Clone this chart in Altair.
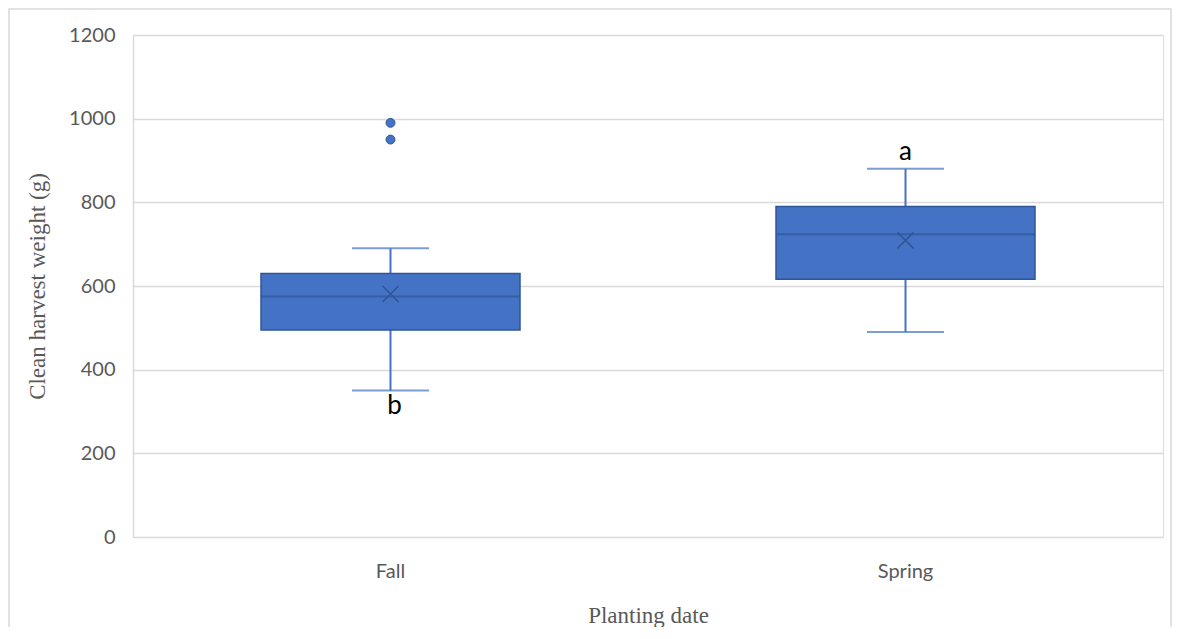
import altair as alt
import pandas as pd

categories = ["Fall", "Spring"]
q1 = [495, 616]
q3 = [630, 790]
median = [575, 724]
mean = [581, 709]
whisk_lo = [350, 490]
whisk_hi = [690, 880]
letters = ["b", "a"]

outlier_cat = ["Fall", "Fall"]
outlier_val = [990, 950]

y_ticks = [0, 200, 400, 600, 800, 1000, 1200]

df = pd.DataFrame({
    "cat": categories, "q1": q1, "q3": q3, "median": median, "mean": mean,
    "lo": whisk_lo, "hi": whisk_hi, "letter": letters,
})
out_df = pd.DataFrame({"cat": outlier_cat, "value": outlier_val})

FILL = "#4472C4"
DARK = "#2F5597"
GRID = "#D9D9D9"
LABEL = "#595959"

x_enc = alt.X(
    "cat:N",
    scale=alt.Scale(domain=categories, paddingInner=0, paddingOuter=0),
    axis=alt.Axis(
        title="Planting date", labelAngle=0, domain=False, ticks=False, grid=False,
        labelFont="Lato", labelFontSize=20, labelColor=LABEL, labelPadding=24,
        titleFont="Liberation Serif", titleFontSize=23, titleColor=LABEL,
        titleFontWeight="normal", titleY=78, titleBaseline="middle",
    ),
)
y_scale = alt.Scale(domain=[0, 1200], nice=False)
y_axis = alt.Axis(
    title="Clean harvest weight (g)", values=y_ticks, format="d", domain=True,
    domainColor=GRID, domainWidth=1.5, ticks=False, grid=True, gridColor=GRID,
    gridWidth=1.5, labelFont="Lato", labelFontSize=20, labelColor=LABEL,
    labelPadding=18, titleFont="Liberation Serif", titleFontSize=23,
    titleColor=LABEL, titleFontWeight="normal", titleX=-96, titleY=251,
    titleBaseline="middle",
)

base = alt.Chart(df)

whisk_low = base.mark_rule(color=FILL, strokeWidth=2).encode(
    x=x_enc, y=alt.Y("lo:Q", scale=y_scale, axis=y_axis), y2="q1:Q")
whisk_high = base.mark_rule(color=FILL, strokeWidth=2).encode(
    x=x_enc, y=alt.Y("q3:Q", scale=y_scale, axis=y_axis), y2="hi:Q")
cap_lo = base.mark_tick(color=FILL, size=77, thickness=2).encode(
    x=x_enc, y=alt.Y("lo:Q", scale=y_scale, axis=y_axis))
cap_hi = base.mark_tick(color=FILL, size=77, thickness=2).encode(
    x=x_enc, y=alt.Y("hi:Q", scale=y_scale, axis=y_axis))
box = base.mark_bar(size=259, fill=FILL, stroke=DARK, strokeWidth=1.5).encode(
    x=x_enc, y=alt.Y("q1:Q", scale=y_scale, axis=y_axis), y2="q3:Q")
med = base.mark_tick(color=DARK, size=259, thickness=2).encode(
    x=x_enc, y=alt.Y("median:Q", scale=y_scale, axis=y_axis))
mean_pt = base.mark_point(shape="M-1,-1L1,1M1,-1L-1,1", size=256, filled=False,
                          strokeWidth=1.5, color=DARK, opacity=1).encode(
    x=x_enc, y=alt.Y("mean:Q", scale=y_scale, axis=y_axis))
outl = alt.Chart(out_df).mark_circle(size=80, color=FILL, stroke=DARK,
                                     strokeWidth=1, opacity=1).encode(
    x=x_enc, y=alt.Y("value:Q", scale=y_scale, axis=y_axis))
txt_b = base.transform_filter(alt.datum.cat == "Fall").mark_text(
    font="Lato", fontSize=26, color="black", baseline="top", dy=2, dx=4).encode(
    x=x_enc, y=alt.Y("lo:Q", scale=y_scale, axis=y_axis), text="letter:N")
txt_a = base.transform_filter(alt.datum.cat == "Spring").mark_text(
    font="Lato", fontSize=26, color="black", baseline="alphabetic", dy=-9).encode(
    x=x_enc, y=alt.Y("hi:Q", scale=y_scale, axis=y_axis), text="letter:N")

frame = alt.Chart(pd.DataFrame({"f": [0]})).mark_rect(
    fillOpacity=0, stroke=GRID, strokeWidth=1.5).encode(
    x=alt.value(-124), x2=alt.value(1038), y=alt.value(-26), y2=alt.value(700))

chart = alt.layer(
    frame, whisk_low, whisk_high, cap_lo, cap_hi, box, med, mean_pt, outl, txt_b, txt_a
).properties(
    width=1030, height=502,
    autosize=alt.AutoSizeParams(type="none"),
    padding={"left": 125, "top": 27, "right": 10, "bottom": 90},
).configure_view(stroke=None).configure(background="white")

chart.save("out.html", embed_options={"renderer": "svg", "actions": False})
